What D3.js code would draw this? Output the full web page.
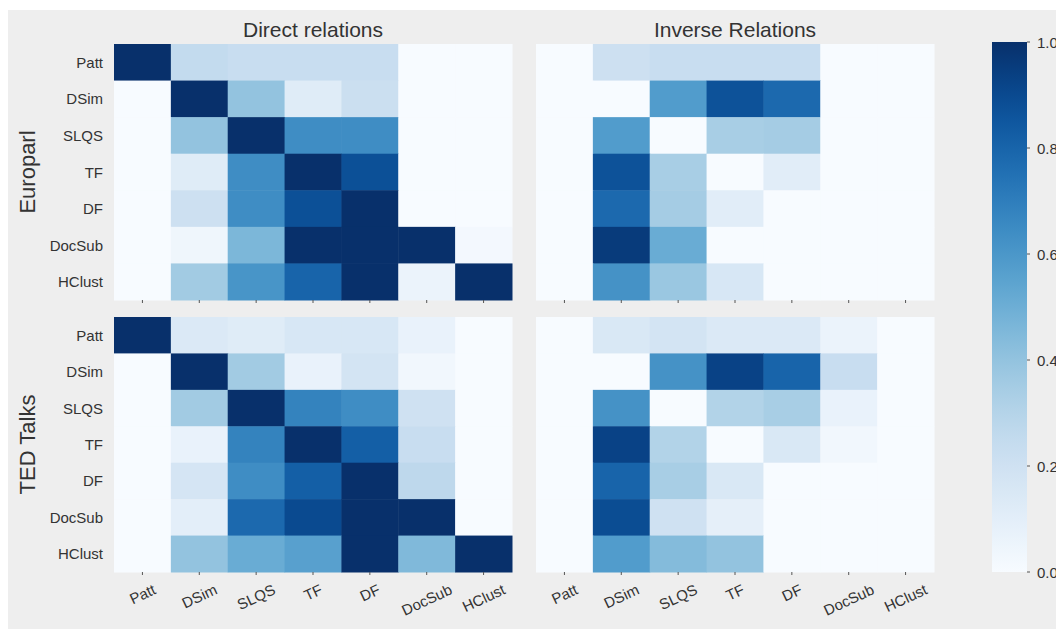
<!DOCTYPE html>
<html><head><meta charset="utf-8">
<script src="https://cdn.jsdelivr.net/npm/d3@7"></script>
<style>body{margin:0;background:#fff;}svg{display:block;font-family:"Liberation Sans",Arial,sans-serif;}</style>
</head><body><svg id="c" width="1056" height="629"></svg>
<script>
const categories = ["Patt","DSim","SLQS","TF","DF","DocSub","HClust"];
const columnTitles = ["Direct relations","Inverse Relations"];
const rowTitles = ["Europarl","TED Talks"];
const colorbarTicks = [0.0,0.2,0.4,0.6,0.8,1.0];

const europarlDirect = [
  [1.00,0.25,0.23,0.23,0.23,0.00,0.00],
  [0.00,1.00,0.40,0.12,0.22,0.00,0.00],
  [0.00,0.40,1.00,0.64,0.64,0.00,0.00],
  [0.00,0.12,0.64,1.00,0.88,0.00,0.00],
  [0.00,0.21,0.64,0.88,1.00,0.00,0.00],
  [0.00,0.04,0.46,1.00,1.00,1.00,0.02],
  [0.00,0.36,0.61,0.80,1.00,0.06,1.00]
];
const europarlInverse = [
  [0.00,0.21,0.23,0.23,0.23,0.00,0.00],
  [0.00,0.00,0.58,0.87,0.78,0.00,0.00],
  [0.00,0.58,0.00,0.34,0.35,0.00,0.00],
  [0.00,0.87,0.34,0.00,0.11,0.00,0.00],
  [0.00,0.78,0.35,0.11,0.00,0.00,0.00],
  [0.00,0.96,0.51,0.00,0.00,0.00,0.00],
  [0.00,0.62,0.38,0.16,0.00,0.00,0.00]
];
const tedDirect = [
  [1.00,0.14,0.12,0.16,0.16,0.07,0.00],
  [0.00,1.00,0.36,0.07,0.18,0.03,0.00],
  [0.00,0.36,1.00,0.68,0.64,0.20,0.00],
  [0.00,0.07,0.68,1.00,0.82,0.23,0.00],
  [0.00,0.17,0.64,0.82,1.00,0.27,0.00],
  [0.00,0.10,0.78,0.90,1.00,1.00,0.00],
  [0.00,0.40,0.51,0.56,1.00,0.45,1.00]
];
const tedInverse = [
  [0.00,0.15,0.18,0.14,0.14,0.06,0.00],
  [0.00,0.00,0.62,0.93,0.80,0.23,0.00],
  [0.00,0.62,0.00,0.31,0.34,0.07,0.00],
  [0.00,0.93,0.31,0.00,0.15,0.03,0.00],
  [0.00,0.80,0.34,0.15,0.00,0.00,0.00],
  [0.00,0.89,0.20,0.09,0.00,0.00,0.00],
  [0.00,0.58,0.44,0.40,0.00,0.00,0.00]
];

const svg = d3.select("#c");
const txt = "#333333";
svg.append("rect").attr("x",8).attr("y",10).attr("width",1048).attr("height",619).attr("fill","#eeeeee");

const color = d3.scaleSequential(d3.interpolateBlues).domain([0,1]);

const panels = [
  {data:europarlDirect, r:0, c:0},
  {data:europarlInverse, r:0, c:1},
  {data:tedDirect, r:1, c:0},
  {data:tedInverse, r:1, c:1}
];
const colX = [[114,512],[536,934]];
const rowY = [[44,300],[317,572]];

panels.forEach(p => {
  const x = d3.scaleBand().domain(categories).range(colX[p.c]);
  const y = d3.scaleBand().domain(categories).range(rowY[p.r]);
  const g = svg.append("g");
  p.data.forEach((row,i) => row.forEach((v,j) => {
    g.append("rect")
      .attr("x", x(categories[j])).attr("y", y(categories[i]))
      .attr("width", x.bandwidth()+0.5).attr("height", y.bandwidth()+0.5)
      .attr("fill", color(v));
  }));
  categories.forEach(cat => {
    g.append("line").attr("x1", x(cat)+x.bandwidth()/2).attr("x2", x(cat)+x.bandwidth()/2)
      .attr("y1", rowY[p.r][1]).attr("y2", rowY[p.r][1]+3).attr("stroke","#555").attr("stroke-width",1);
  });
  if (p.c === 0) {
    categories.forEach(cat => {
      g.append("text").attr("x", 103).attr("y", y(cat)+y.bandwidth()/2)
        .attr("text-anchor","end").attr("dominant-baseline","central")
        .attr("font-size",15).attr("fill",txt).text(cat);
    });
  }
  if (p.r === 1) {
    const ang = 25*Math.PI/180;
    categories.forEach(cat => {
      const t = g.append("text").attr("text-anchor","middle").attr("dominant-baseline","central")
        .attr("font-size",15).attr("fill",txt).text(cat);
      const w = t.node().getComputedTextLength();
      const h = 14;
      const bh = w*Math.sin(ang) + h*Math.cos(ang);
      const cx = x(cat)+x.bandwidth()/2;
      const cy = 582 + bh/2;
      t.attr("transform", `translate(${cx},${cy}) rotate(-25)`);
    });
  }
});

columnTitles.forEach((t,i) => {
  svg.append("text").attr("x",(colX[i][0]+colX[i][1])/2).attr("y",37)
    .attr("text-anchor","middle").attr("font-size",21).attr("fill",txt).text(t);
});
rowTitles.forEach((t,i) => {
  const cy = (rowY[i][0]+rowY[i][1])/2;
  svg.append("text").attr("transform",`translate(35,${cy}) rotate(-90)`)
    .attr("text-anchor","middle").attr("font-size",22).attr("fill",txt).text(t);
});

const defs = svg.append("defs");
const grad = defs.append("linearGradient").attr("id","cb").attr("x1",0).attr("y1",1).attr("x2",0).attr("y2",0);
d3.range(0,1.0001,0.05).forEach(s => grad.append("stop").attr("offset",s).attr("stop-color",color(s)));
const cbY = d3.scaleLinear().domain([0,1]).range([572,42]);
svg.append("rect").attr("x",992).attr("y",42).attr("width",35).attr("height",530).attr("fill","url(#cb)");
colorbarTicks.forEach(v => {
  svg.append("line").attr("x1",1027).attr("x2",1030).attr("y1",cbY(v)).attr("y2",cbY(v)).attr("stroke","#555");
  svg.append("text").attr("x",1037).attr("y",cbY(v)).attr("dominant-baseline","central")
    .attr("font-size",15).attr("fill",txt).text(v.toFixed(1));
});
</script></body></html>
